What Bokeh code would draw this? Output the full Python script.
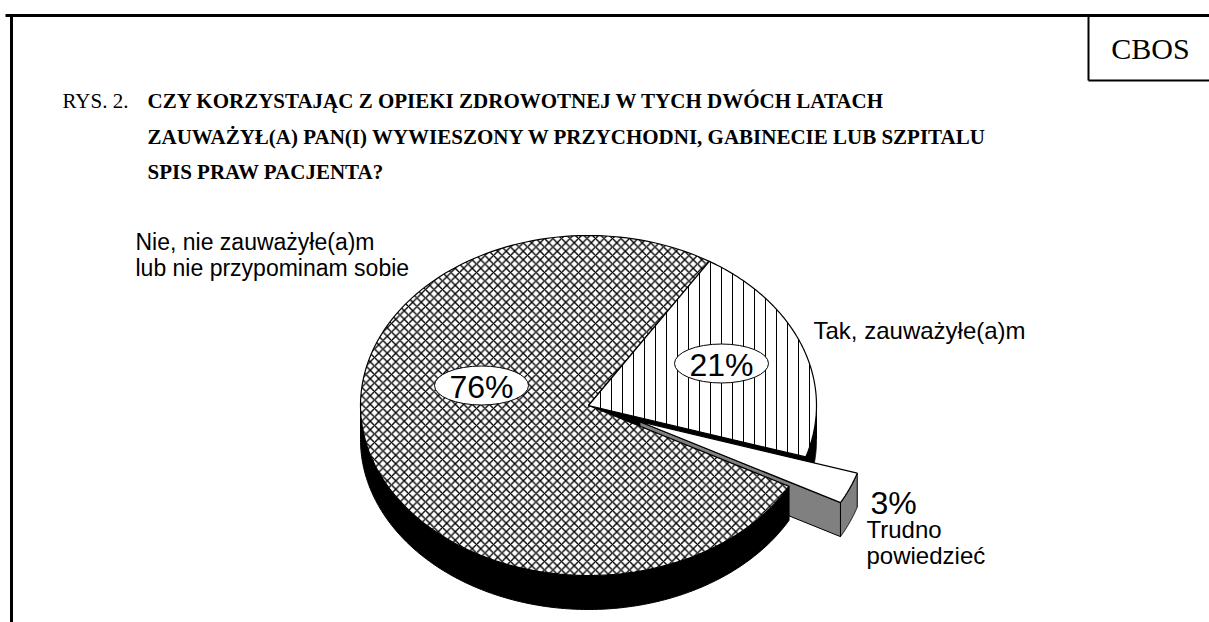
import numpy as np
from bokeh.plotting import figure
from bokeh.models import Range1d
from bokeh.core.properties import value
from bokeh.embed import file_html
from bokeh.resources import INLINE

# ---------------- data ----------------
categories = ["Tak, zauważyłe(a)m", "Trudno powiedzieć",
              "Nie, nie zauważyłe(a)m lub nie przypominam sobie"]
values = [21, 3, 76]
pct_labels = ["21%", "3%", "76%"]
explode = [0.0, 0.245, 0.0]
title_prefix = "RYS. 2."
title_lines = ["CZY KORZYSTAJĄC Z OPIEKI ZDROWOTNEJ W TYCH DWÓCH LATACH",
               "ZAUWAŻYŁ(A) PAN(I) WYWIESZONY W PRZYCHODNI, GABINECIE LUB SZPITALU",
               "SPIS PRAW PACJENTA?"]
source_label = "CBOS"

# ---------------- layout ----------------
W, H = 1209, 622
p = figure(width=W, height=H, output_backend="svg", toolbar_location=None,
           x_range=Range1d(0, W), y_range=Range1d(H, 0),
           x_axis_type=None, y_axis_type=None, min_border=0)
p.grid.visible = False
p.outline_line_color = None
p.background_fill_color = "white"
p.border_fill_color = "white"

cx, cy, rx, ry, depth = 588.0, 405.0, 228.0, 170.0, 34.0
start_angle = 58.0

# slice angle bounds (clockwise from start)
bounds = []
a = start_angle
for v in values:
    span = v / sum(values) * 360.0
    bounds.append((a - span, a))  # (lo, hi) counterclockwise
    a -= span

def offset(i):
    lo, hi = bounds[i]
    mid = np.radians((lo + hi) / 2)
    return explode[i] * rx * np.cos(mid), -explode[i] * ry * np.sin(mid)

def arc(a0, a1, dx=0.0, dy=0.0, dz=0.0, n=160):
    t = np.radians(np.linspace(a0, a1, n))
    return list(cx + dx + rx * np.cos(t)), list(cy + dy - ry * np.sin(t) + dz)

def front_part(lo, hi):
    parts = []
    for k in (-1, 0, 1, 2):
        s, e = max(lo, 180 + 360 * k), min(hi, 360 + 360 * k)
        if e > s:
            parts.append((s, e))
    return parts

def outer_wall(i, color):
    lo, hi = bounds[i]
    dx, dy = offset(i)
    for s, e in front_part(lo, hi):
        x1, y1 = arc(s, e, dx, dy)
        x2, y2 = arc(e, s, dx, dy, depth)
        p.patch(x1 + x2, y1 + y2, fill_color=color, line_color="black", line_width=1)

def radial_wall(i, ang, color):
    dx, dy = offset(i)
    t = np.radians(ang)
    ox, oy = cx + dx + rx * np.cos(t), cy + dy - ry * np.sin(t)
    ax, ay = cx + dx, cy + dy
    p.patch([ax, ox, ox, ax], [ay, oy, oy + depth, ay + depth],
            fill_color=color, line_color="black", line_width=1)

def top(i, **kw):
    lo, hi = bounds[i]
    dx, dy = offset(i)
    x, y = arc(lo, hi, dx, dy)
    p.patch([cx + dx] + x, [cy + dy] + y, line_color="black", line_width=1.2, **kw)

# draw order (painter's algorithm)
outer_wall(0, "black")
radial_wall(0, bounds[0][0], "black")
radial_wall(1, bounds[1][0], "#808080")
outer_wall(1, "#808080")
top(1, fill_color="white")
outer_wall(2, "black")
top(2, fill_color="white", hatch_pattern="diagonal_cross", hatch_scale=8.5,
    hatch_color="black", hatch_weight=1.4)
top(0, fill_color="white", hatch_pattern="vertical_line", hatch_scale=11,
    hatch_color="black", hatch_weight=1)

# percentage labels
lab_x = [721, 893, 481]
lab_y = [363, 501, 385]
p.ellipse(x=[lab_x[0], lab_x[2]], y=[lab_y[0], lab_y[2]], width=94, height=39,
          fill_color="white", line_color="black", line_width=1)
p.text(x=lab_x, y=[y + 1 for y in lab_y], text=pct_labels,
       text_font=value("Liberation Sans"), text_font_size="32px",
       text_align="center", text_baseline="middle", text_color="black")

# category labels (vertical centres)
sans = value("Liberation Sans")
p.text(x=[135, 135], y=[241, 267], text=["Nie, nie zauważyłe(a)m", "lub nie przypominam sobie"],
       text_font=sans, text_font_size="23px", text_baseline="middle")
p.text(x=[813], y=[330], text=[categories[0]],
       text_font=sans, text_font_size="24px", text_baseline="middle")
p.text(x=[866, 866], y=[529, 555], text=categories[1].split(" "),
       text_font=sans, text_font_size="24px", text_baseline="middle")

# title
serif = value("Liberation Serif")
p.text(x=[62], y=[100], text=[title_prefix], text_font=serif, text_font_size="21px",
       text_baseline="middle")
p.text(x=[147, 147, 147], y=[100, 136, 171], text=title_lines, text_font=serif,
       text_font_size="21px", text_font_style="bold", text_baseline="middle")
p.text(x=[1150], y=[48], text=[source_label], text_font=serif, text_font_size="30px",
       text_align="center", text_baseline="middle")

# frame
p.segment(x0=[5, 11, 1088, 1088], y0=[15, 15, 15, 80], x1=[1209, 11, 1088, 1209],
          y1=[15, 622, 80, 80], line_color="black", line_width=[3, 3, 2, 2])

open("out.html", "w").write(file_html(p, INLINE))
